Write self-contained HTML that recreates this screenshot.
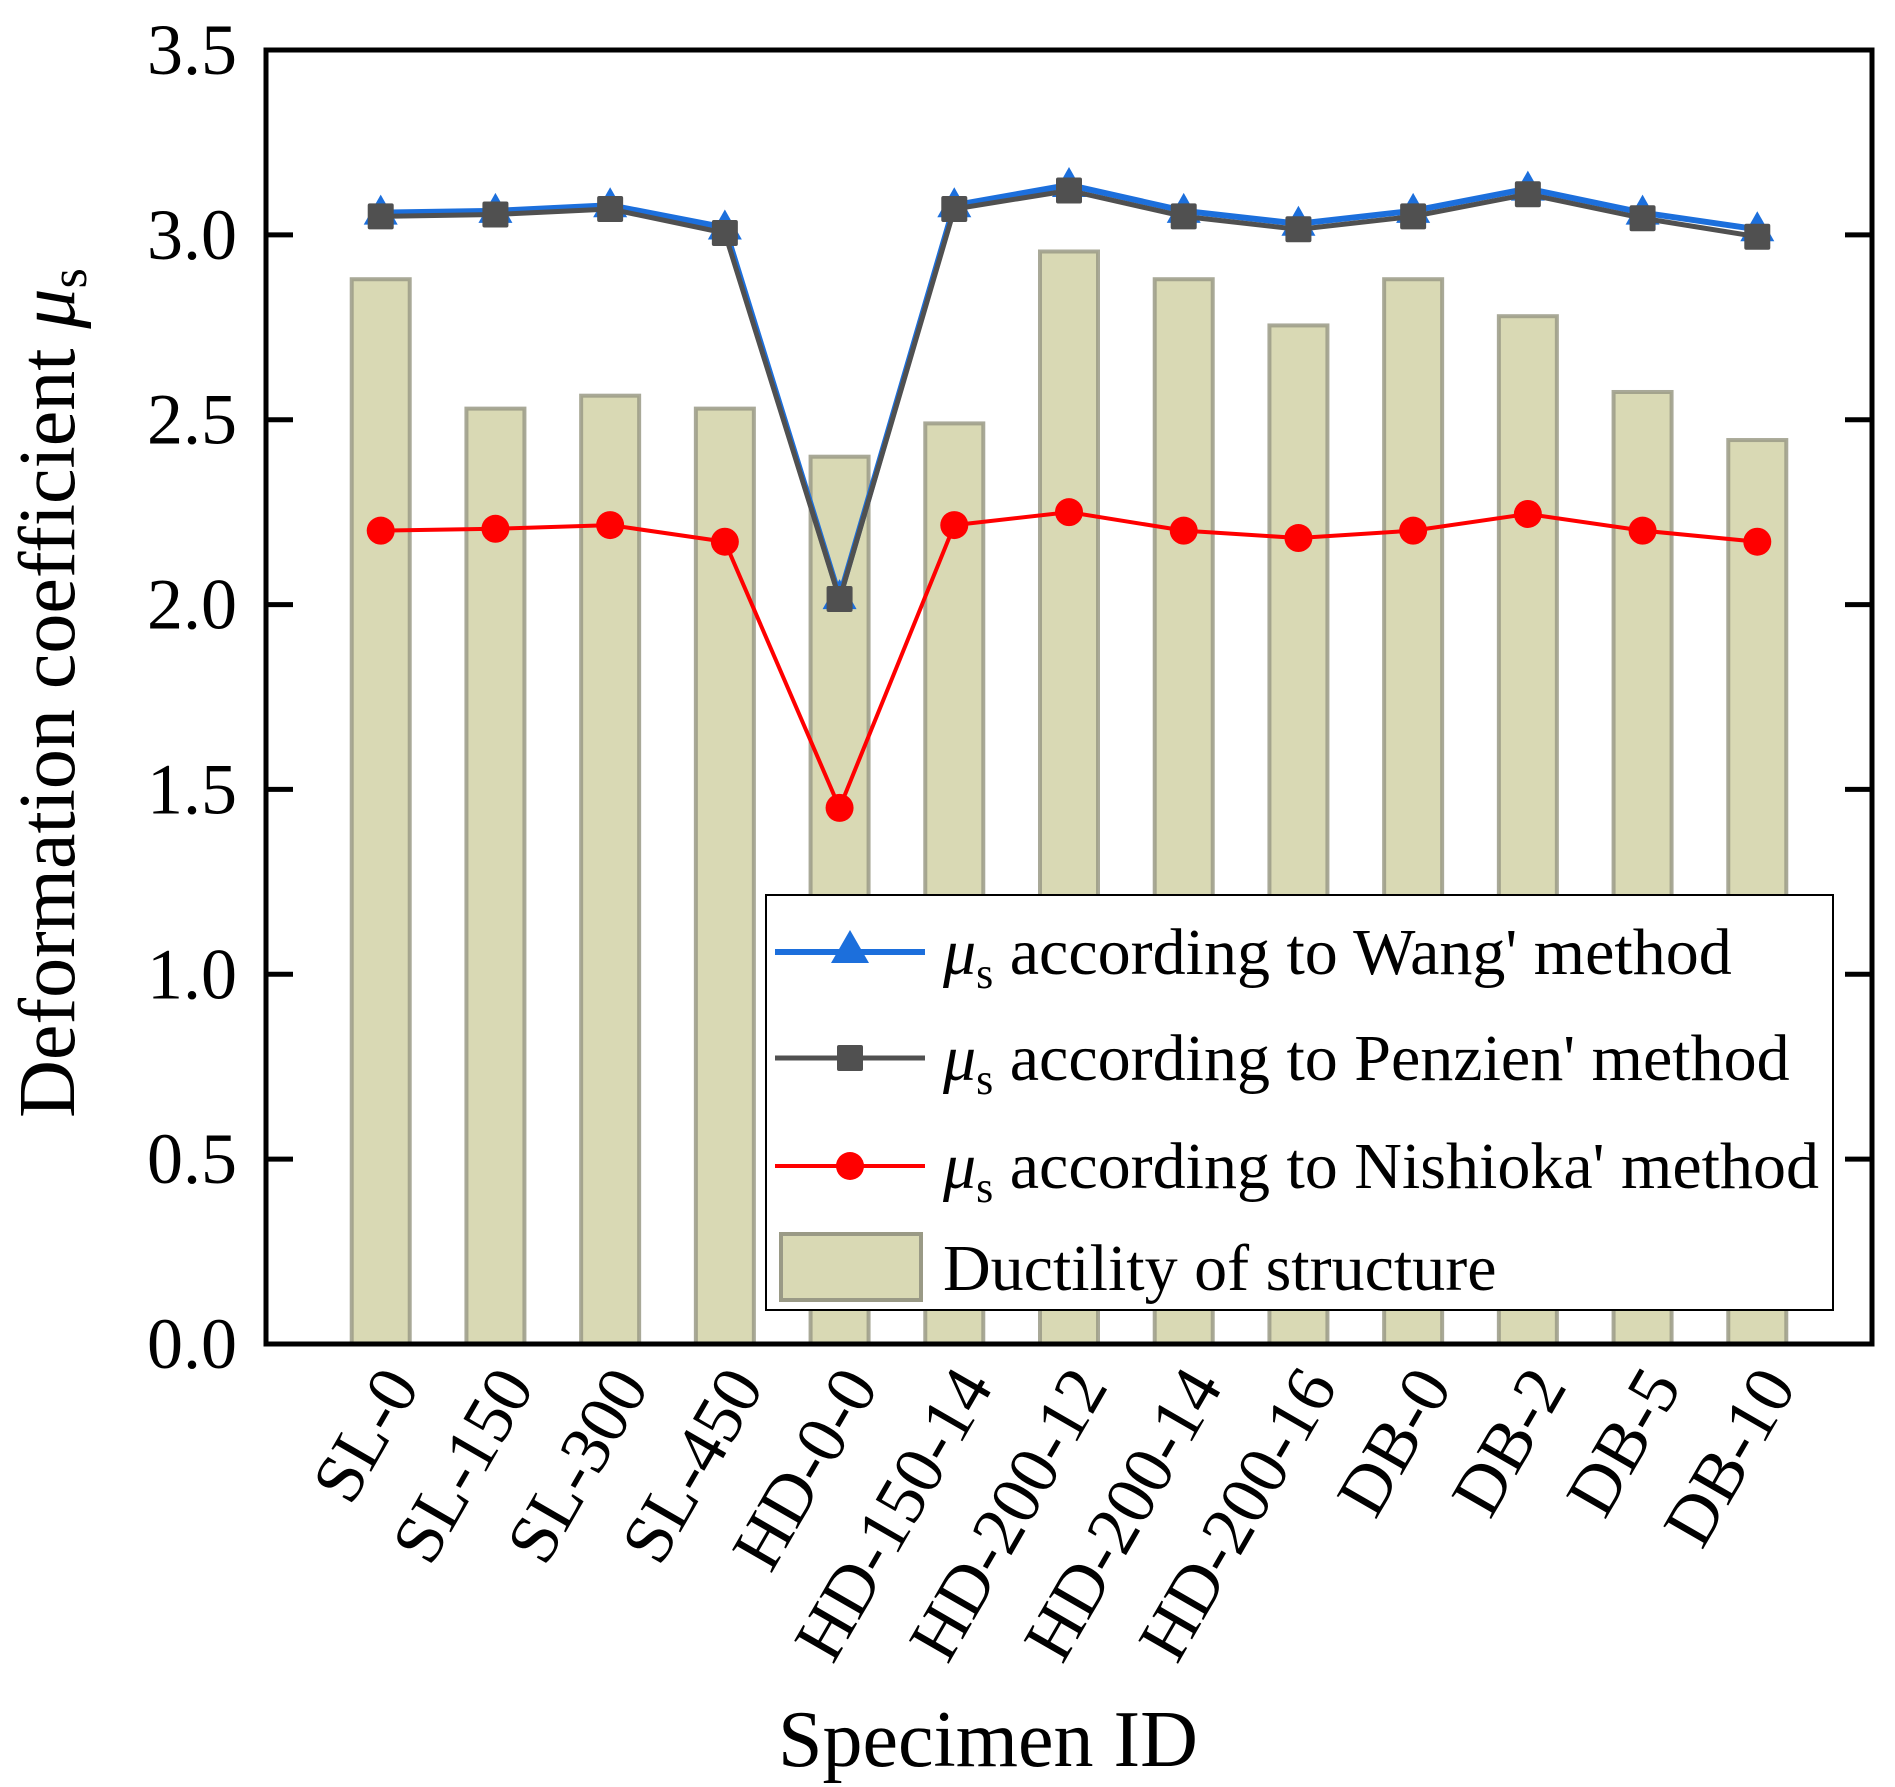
<!DOCTYPE html>
<html><head><meta charset="utf-8"><style>
html,body{margin:0;padding:0;background:#fff;}
svg{display:block;font-family:"Liberation Serif",serif;}
</style></head><body>
<svg id="chart" width="1895" height="1787" viewBox="0 0 1895 1787" xmlns="http://www.w3.org/2000/svg">
<g id="bars"></g>
<g id="lines"></g>
<g id="axes"></g>
<g id="legend"></g>
</svg>
<script>
const categories = ["SL-0","SL-150","SL-300","SL-450","HD-0-0","HD-150-14","HD-200-12","HD-200-14","HD-200-16","DB-0","DB-2","DB-5","DB-10"];
const ductility = [2.88,2.53,2.565,2.53,2.40,2.49,2.955,2.88,2.755,2.88,2.78,2.575,2.445];
const wang = [3.06,3.065,3.08,3.02,2.02,3.08,3.135,3.065,3.03,3.065,3.125,3.06,3.015];
const penzien = [3.05,3.055,3.07,3.005,2.015,3.07,3.12,3.05,3.015,3.05,3.11,3.045,2.995];
const nishioka = [2.20,2.205,2.215,2.17,1.45,2.215,2.25,2.20,2.18,2.20,2.245,2.20,2.17];
const yTicks = ["0.0","0.5","1.0","1.5","2.0","2.5","3.0","3.5"];

const NS="http://www.w3.org/2000/svg";
const L=266,R=1872,T=50,B=1344;
const x=i=>L+(i+1)*(R-L)/(categories.length+1);
const y=v=>B-(v/3.5)*(B-T);
function mk(tag,attrs,parent,text){const e=document.createElementNS(NS,tag);for(const k in attrs)e.setAttribute(k,attrs[k]);if(text!==undefined)e.textContent=text;parent.appendChild(e);return e;}
const gb=document.getElementById('bars'),gl=document.getElementById('lines'),ga=document.getElementById('axes'),gg=document.getElementById('legend');

ductility.forEach((v,i)=>{
  const r=mk('rect',{x:x(i)-29,y:y(v),width:58,height:B-y(v),fill:'#d9d9b4',stroke:'#9a9a86','stroke-width':4,'stroke-opacity':0.85},gb);
  
  
});

function series(vals,color,w,marker,name){
  const g=mk('g',{},gl);
  
  
  mk('polyline',{points:vals.map((v,i)=>x(i)+','+y(v)).join(' '),fill:'none',stroke:color,'stroke-width':w},g);
  vals.forEach((v,i)=>{
    const cx=x(i),cy=y(v);let m;
    if(marker==='tri') m=mk('polygon',{points:`${cx},${cy-18} ${cx-17},${cy+12} ${cx+17},${cy+12}`,fill:color},g);
    else if(marker==='sq') m=mk('rect',{x:cx-13,y:cy-13,width:26,height:26,rx:2,fill:color},g);
    else m=mk('circle',{cx:cx,cy:cy,r:14,fill:color},g);
    
    
  });
}
series(wang,'#1c6fdc',6,'tri','wang');
series(penzien,'#505050',5,'sq','penzien');
series(nishioka,'#ff0000',4,'circ','nishioka');
const fr=mk('rect',{x:L,y:T,width:R-L,height:B-T,fill:'none',stroke:'#000','stroke-width':5},ga);


yTicks.forEach((t,i)=>{
  const v=parseFloat(t),yy=y(v);
  mk('line',{x1:L,y1:yy,x2:L+27,y2:yy,stroke:'#000','stroke-width':5},ga);
  mk('line',{x1:R,y1:yy,x2:R-27,y2:yy,stroke:'#000','stroke-width':5},ga);
  const tx=mk('text',{x:L-29,y:yy+24,'text-anchor':'end','font-size':72},ga,t);
  
  
});
categories.forEach((c,i)=>{
  const px=x(i)+40,py=1386;
  const tx=mk('text',{x:px,y:py,'text-anchor':'end','font-size':70,transform:`rotate(-60 ${px} ${py})`},ga,c);
  
  
});
const yt=mk('text',{x:0,y:0,'text-anchor':'middle','font-size':80,transform:'translate(74,693) rotate(-90)'},ga);


yt.innerHTML='Deformation coefficient <tspan font-style="italic">μ</tspan><tspan font-size="52" dy="12">s</tspan>';
const xt=mk('text',{x:988,y:1766,'text-anchor':'middle','font-size':80},ga,'Specimen ID');



const lb=mk('rect',{x:766,y:895,width:1067,height:415,fill:'#fff',stroke:'#000','stroke-width':2},gg);


const rows=[[952,'#1c6fdc',6,'tri','Wang'],[1058,'#505050',5,'sq','Penzien'],[1166,'#ff0000',4,'circ','Nishioka']];
rows.forEach(r=>{
  const g=mk('g',{},gg);
  
  
  const yy=r[0],cx=850;
  mk('line',{x1:775,y1:yy,x2:925,y2:yy,stroke:r[1],'stroke-width':r[2]},g);
  if(r[3]==='tri') mk('polygon',{points:`${cx},${yy-22} ${cx-19},${yy+11} ${cx+19},${yy+11}`,fill:r[1]},g);
  else if(r[3]==='sq') mk('rect',{x:cx-13,y:yy-13,width:26,height:26,rx:2,fill:r[1]},g);
  else mk('circle',{cx:cx,cy:yy,r:14,fill:r[1]},g);
  const t=mk('text',{x:943,y:yy+22,'font-size':66},g);
  t.innerHTML=`<tspan font-style="italic">μ</tspan><tspan font-size="44" dy="14">s</tspan><tspan dy="-14"> according to ${r[4]}' method</tspan>`;
});
const gd=mk('g',{},gg);


mk('rect',{x:781,y:1234,width:140,height:66,fill:'#d9d9b4',stroke:'#9a9a86','stroke-width':4},gd);
mk('text',{x:943,y:1290,'font-size':66},gd,'Ductility of structure');
</script>
</body></html>
